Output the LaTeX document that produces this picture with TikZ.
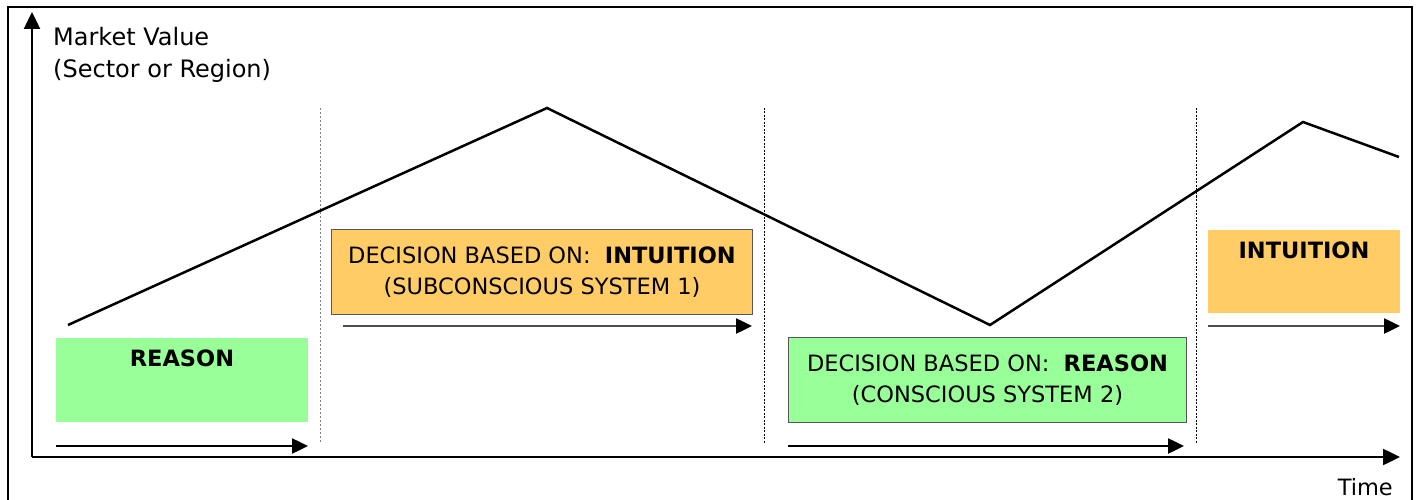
\documentclass[tikz,border=0pt]{standalone}
\usepackage{fontspec}
\setmainfont{DejaVu Sans}
\usetikzlibrary{arrows.meta,calc}
\definecolor{boxgreen}{HTML}{99FF99}
\definecolor{boxorange}{HTML}{FFCC66}
\definecolor{edgegray}{HTML}{555555}
\definecolor{arrgray}{HTML}{4D4D4D}
\begin{document}
\begin{tikzpicture}[x=1pt,y=-1pt,
  txt/.style={font=\fontsize{22.5}{31}\selectfont, inner sep=0pt},
  axislabel/.style={font=\fontsize{24}{32}\selectfont, inner sep=0pt, anchor=base west},
  axisline/.style={line width=2.5pt, -{Triangle[length=17pt,width=16pt]}},
  curveline/.style={line width=2.5pt, line join=miter},
  stagearrow/.style={line width=2.5pt, -{Triangle[length=16pt,width=15pt,fill=black,color=black]}},
  divider/.style={line width=1pt, dash pattern=on 2pt off 1.5pt},
  boxbase/.style={anchor=north west, inner sep=0pt, align=center, font=\fontsize{22.5}{31}\selectfont},
]
\useasboundingbox (0,0) rectangle (1417,500);
\clip (0,0) rectangle (1417,500);
\fill[white] (0,0) rectangle (1417,500);
% outer frame
\draw[line width=2.5pt] (8,520) -- (8,7) -- (1412,7) -- (1412,520);

% axes
\coordinate (O) at (32,457);
\coordinate (ytip) at (32,12);
\coordinate (xtip) at (1400,457);
\draw[axisline] (O) -- (ytip);
\draw[axisline] (O) -- (xtip);
\node[axislabel] (ylab1) at (53,46) {Market Value};
\node[axislabel] (ylab2) at (53,78) {(Sector or Region)};
\node[txt, anchor=base east] (xlab) at (1393,495) {Time};

% dividers
\coordinate (d1t) at (320,108); \coordinate (d1b) at (320,443);
\coordinate (d2t) at (764,108); \coordinate (d2b) at (764,443);
\coordinate (d3t) at (1196,108); \coordinate (d3b) at (1196,443);
\draw[divider, gray, dash pattern=on 2pt off 2pt] (d1t) -- (d1b);
\draw[divider] (d2t) -- (d2b);
\draw[divider] (d3t) -- (d3b);

% market curve
\coordinate (p0) at (68,325);
\coordinate (p1) at (547,108);
\coordinate (p2) at (990,325);
\coordinate (p3) at (1303,122);
\coordinate (p4) at (1399,157);
\draw[curveline] (p0) -- (p1) -- (p2) -- (p3) -- (p4);

% boxes
\node[boxbase, fill=boxgreen, minimum width=252pt, minimum height=84pt] (reasonbox) at (56,338) {};
\node[txt, anchor=base, font=\fontsize{22.5}{31}\selectfont\bfseries] (reasontext) at (182,366) {REASON};

\node[boxbase, draw=edgegray, line width=1pt, fill=boxorange, minimum width=421pt, minimum height=85pt] (intbox) at (331,229)
  {DECISION BASED ON:\ \ \textbf{INTUITION}\\(SUBCONSCIOUS SYSTEM 1)};

\node[boxbase, draw=edgegray, line width=1pt, fill=boxgreen, minimum width=398pt, minimum height=85pt] (reabox) at (788,337)
  {DECISION BASED ON:\ \ \textbf{REASON}\\(CONSCIOUS SYSTEM 2)};

\node[boxbase, fill=boxorange, minimum width=192pt, minimum height=83pt] (intbox2) at (1208,230) {};
\node[txt, anchor=base, font=\fontsize{22.5}{31}\selectfont\bfseries] (inttext2) at (1304,258) {INTUITION};

% stage arrows
\coordinate (a1s) at (56,446); \coordinate (a1e) at (308,446);
\coordinate (a2s) at (343,326); \coordinate (a2e) at (752,326);
\coordinate (a3s) at (788,446); \coordinate (a3e) at (1184,446);
\coordinate (a4s) at (1208,326); \coordinate (a4e) at (1400,326);
\draw[stagearrow] (a1s) -- (a1e);
\draw[stagearrow, arrgray] (a2s) -- (a2e);
\draw[stagearrow] (a3s) -- (a3e);
\draw[stagearrow, arrgray] (a4s) -- (a4e);
\end{tikzpicture}
\end{document}
